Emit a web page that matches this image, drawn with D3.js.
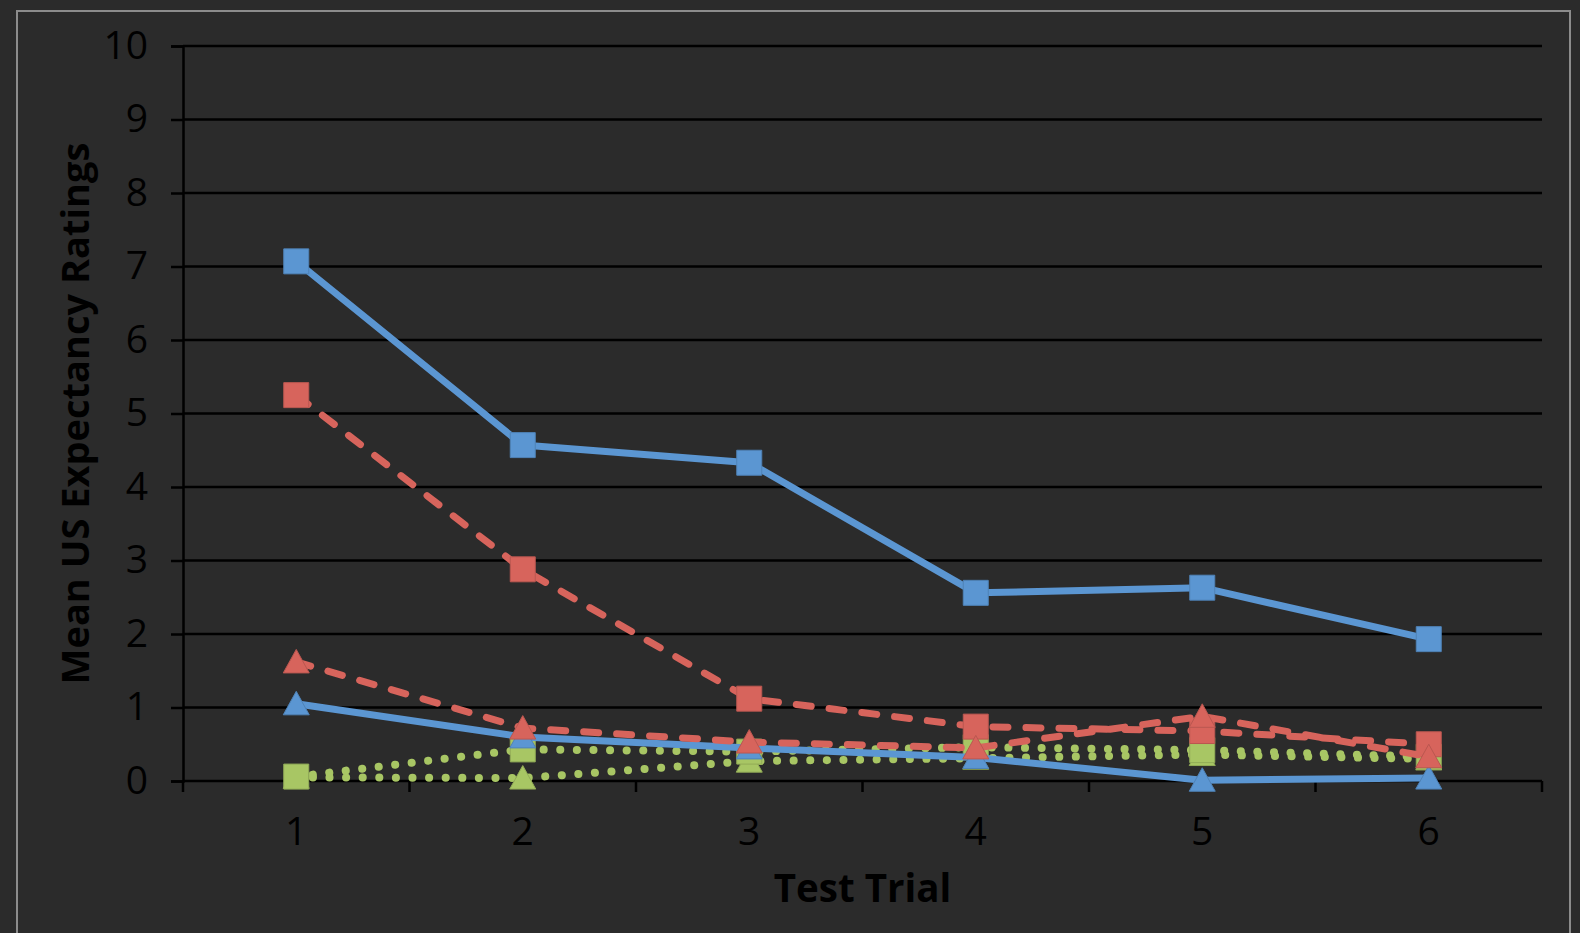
<!DOCTYPE html>
<head>
  <meta charset="utf-8">
  <script src="https://d3js.org/d3.v7.min.js"></script>
  <style>
    body { margin: 0; background: #2b2b2b; }
    text { font-family: "Open Sans", sans-serif; fill: #000; }
  </style>
</head>
<body>
  <svg width="1580" height="933"></svg>
  <script>
    // chart values
    const trials = ['1', '2', '3', '4', '5', '6'];
    const yTicks = [0, 1, 2, 3, 4, 5, 6, 7, 8, 9, 10];
    const blueSquares = [7.07, 4.57, 4.33, 2.56, 2.63, 1.93];
    const blueTriangles = [1.05, 0.6, 0.45, 0.32, 0.01, 0.04];
    const greenSquares = [0.06, 0.43, 0.4, 0.46, 0.42, 0.33];
    const greenTriangles = [0.05, 0.04, 0.27, 0.31, 0.36, 0.3];
    const redSquares = [5.25, 2.88, 1.12, 0.74, 0.68, 0.5];
    const redTriangles = [1.62, 0.72, 0.53, 0.45, 0.88, 0.33];

    const blue = '#5b96d2', red = '#d7645c', green = '#a8c664';
    const series = [
      { values: greenTriangles, color: green, shape: 'tri', dash: '0.1 16.5', w: 8 },
      { values: greenSquares, color: green, shape: 'sq', dash: '0.1 16.5', w: 8 },
      { values: blueTriangles, color: blue, shape: 'tri', dash: null, w: 7 },
      { values: blueSquares, color: blue, shape: 'sq', dash: null, w: 7 },
      { values: redSquares, color: red, shape: 'sq', dash: '15 18', w: 7 },
      { values: redTriangles, color: red, shape: 'tri', dash: '15 18', w: 7 },
    ];

    const svg = d3.select('svg');
    const plotL = 183, plotR = 1542, plotT = 46, plotB = 781;

    // frame
    svg.append('rect')
      .attr('x', 17).attr('y', 11)
      .attr('width', 1553).attr('height', 940)
      .attr('fill', '#2b2b2b')
      .attr('stroke', '#8c8c8c').attr('stroke-width', 2);

    const x = d3.scaleBand().domain(trials).range([plotL, plotR]).padding(0);
    const y = d3.scaleLinear().domain([0, 10]).range([plotB, plotT]);
    const cx = d => x(d) + x.bandwidth() / 2;

    // gridlines
    svg.append('g')
      .selectAll('line')
      .data(yTicks)
      .join('line')
      .attr('x1', plotL).attr('x2', plotR)
      .attr('y1', d => y(d)).attr('y2', d => y(d))
      .attr('stroke', '#000').attr('stroke-width', 2.5);

    // y axis
    const yAxis = svg.append('g')
      .attr('transform', `translate(${plotL},0)`)
      .call(d3.axisLeft(y).tickValues(yTicks).tickSize(12).tickPadding(23));
    yAxis.select('.domain').attr('stroke', '#000').attr('stroke-width', 2.5);
    yAxis.selectAll('.tick line').attr('stroke', '#000').attr('stroke-width', 2.5);
    yAxis.selectAll('.tick text')
      .attr('font-size', 39).attr('fill', '#000')
      .style('font-family', '"Open Sans", sans-serif');

    // x axis: labels at centers, ticks at band edges
    const xAxis = svg.append('g')
      .attr('transform', `translate(0,${plotB})`)
      .call(d3.axisBottom(x).tickSize(0).tickPadding(36));
    xAxis.select('.domain').remove();
    xAxis.selectAll('.tick text')
      .attr('font-size', 39).attr('fill', '#000')
      .style('font-family', '"Open Sans", sans-serif');
    svg.append('g')
      .selectAll('line')
      .data(d3.range(trials.length + 1))
      .join('line')
      .attr('x1', i => plotL + i * x.bandwidth())
      .attr('x2', i => plotL + i * x.bandwidth())
      .attr('y1', plotB).attr('y2', plotB + 11)
      .attr('stroke', '#000').attr('stroke-width', 2.5);

    // axis titles
    svg.append('text')
      .attr('x', (plotL + plotR) / 2).attr('y', 902)
      .attr('text-anchor', 'middle')
      .attr('font-size', 38.5).attr('font-weight', 'bold')
      .text('Test Trial');
    svg.append('text')
      .attr('transform', `translate(89,${(plotT + plotB) / 2}) rotate(-90)`)
      .attr('text-anchor', 'middle')
      .attr('font-size', 38).attr('font-weight', 'bold')
      .text('Mean US Expectancy Ratings');

    const line = d3.line().x((d, i) => cx(trials[i])).y(d => y(d));
    const sq = d3.symbol().type(d3.symbolSquare).size(25 * 25)();
    const tri = 'M0,-12.5L13,11L-13,11Z';

    series.forEach(s => {
      const g = svg.append('g');
      g.append('path')
        .attr('d', line(s.values))
        .attr('fill', 'none')
        .attr('stroke', s.color)
        .attr('stroke-width', s.w)
        .attr('stroke-linecap', 'round')
        .attr('stroke-linejoin', 'round')
        .attr('stroke-dasharray', s.dash);
      g.selectAll('path.m')
        .data(s.values)
        .join('path')
        .attr('class', 'm')
        .attr('transform', (d, i) => `translate(${cx(trials[i])},${y(d)})`)
        .attr('d', s.shape === 'sq' ? sq : tri)
        .attr('fill', s.color)
        .attr('stroke', d3.color(s.color).darker(0.4))
        .attr('stroke-width', 1);
    });
  </script>
</body>
